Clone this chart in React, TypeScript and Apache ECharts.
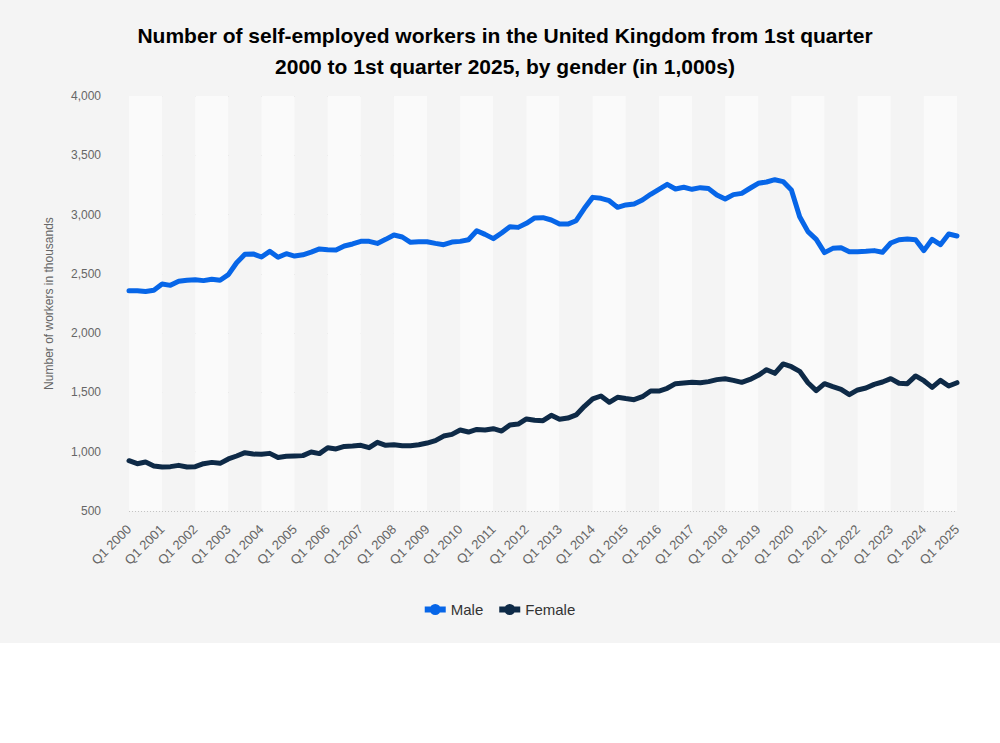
import { useEffect, useRef } from 'react';
import * as echarts from 'echarts';

const START_YEAR = 2000;
const END_YEAR = 2025;

// Q1 2000 .. Q1 2025
const quarters: string[] = [];
for (let y = START_YEAR; y <= END_YEAR; y++) {
  for (let q = 1; q <= 4; q++) {
    if (y === END_YEAR && q > 1) break;
    quarters.push(`Q${q} ${y}`);
  }
}

const male = [
  2358, 2358, 2352, 2362, 2414, 2403, 2437, 2446, 2451, 2443,
  2455, 2446, 2493, 2594, 2665, 2668, 2642, 2690, 2640, 2670,
  2650, 2661, 2684, 2710, 2704, 2701, 2735, 2752, 2774, 2774,
  2757, 2791, 2828, 2811, 2766, 2771, 2771, 2757, 2746, 2768,
  2774, 2788, 2864, 2833, 2797, 2845, 2898, 2892, 2926, 2972,
  2974, 2954, 2920, 2920, 2948, 3053, 3145, 3137, 3117, 3061,
  3081, 3090, 3123, 3171, 3213, 3255, 3216, 3230, 3213, 3227,
  3219, 3165, 3131, 3168, 3179, 3222, 3264, 3275, 3294, 3278,
  3207, 2982, 2856, 2791, 2679, 2715, 2721, 2687, 2687, 2690,
  2696, 2682, 2760, 2788, 2794, 2788, 2696, 2791, 2746, 2836,
  2819,
];

const female = [
  924, 899, 913, 880, 871, 874, 885, 871, 874, 899,
  910, 902, 939, 964, 992, 980, 978, 986, 952, 961,
  964, 967, 998, 984, 1034, 1023, 1045, 1048, 1054, 1034,
  1079, 1054, 1059, 1051, 1051, 1059, 1073, 1093, 1132, 1146,
  1183, 1166, 1188, 1183, 1194, 1174, 1225, 1233, 1276, 1265,
  1262, 1307, 1273, 1284, 1310, 1383, 1445, 1470, 1417, 1459,
  1448, 1439, 1464, 1512, 1512, 1535, 1574, 1580, 1585, 1582,
  1591, 1608, 1616, 1602, 1585, 1610, 1644, 1692, 1661, 1740,
  1717, 1678, 1582, 1515, 1574, 1549, 1526, 1481, 1521, 1537,
  1568, 1588, 1616, 1577, 1574, 1639, 1599, 1543, 1602, 1554,
  1582,
];

const FONT = "'Liberation Sans', Arial, Helvetica, sans-serif";
const MALE_COLOR = '#0766e8';
const FEMALE_COLOR = '#0e2a47';
// thick bar with a dot in the middle, like the legend markers of the original
const LEGEND_ICON =
  'path://M0,2.5L21,2.5L21,8.5L0,8.5Z M5,5.5A5.5,5.5 0 1,1 16,5.5A5.5,5.5 0 1,1 5,5.5Z';

export default function App() {
  const chartRef = useRef<HTMLDivElement>(null);

  useEffect(() => {
    document.body.style.margin = '0';
    if (!chartRef.current) return;
    const chart = echarts.init(chartRef.current, undefined, { renderer: 'svg' });

    const option: echarts.EChartsOption = {
      animation: false,
      backgroundColor: '#f4f4f4',
      title: {
        text: 'Number of self-employed workers in the United Kingdom from 1st quarter\n2000 to 1st quarter 2025, by gender (in 1,000s)',
        left: 500,
        top: 15,
        textAlign: 'center',
        textStyle: {
          fontFamily: FONT,
          fontSize: 21,
          fontWeight: 'bold',
          color: '#000',
          lineHeight: 31,
        },
      },
      legend: {
        top: 597,
        left: 'center',
        icon: LEGEND_ICON,
        itemWidth: 21,
        itemHeight: 11,
        itemGap: 16,
        textStyle: { fontFamily: FONT, fontSize: 15, color: '#333' },
        data: ['Male', 'Female'],
      },
      grid: {
        left: 129,
        right: 43,
        top: 96,
        bottom: 132,
      },
      xAxis: {
        type: 'category',
        data: quarters,
        boundaryGap: false,
        axisLine: { show: false },
        axisTick: { show: false },
        axisLabel: {
          interval: 3,
          rotate: 45,
          margin: 16,
          color: '#666',
          fontFamily: FONT,
          fontSize: 13,
        },
        splitLine: { show: false },
        splitArea: {
          show: true,
          interval: 3,
          areaStyle: { color: ['#fafafa', '#f4f4f4'] },
        },
      },
      yAxis: {
        type: 'value',
        min: 500,
        max: 4000,
        interval: 500,
        name: 'Number of workers in thousands',
        nameLocation: 'middle',
        nameGap: 74,
        nameTextStyle: { color: '#666', fontFamily: FONT, fontSize: 12 },
        axisLine: { show: false },
        axisTick: { show: false },
        axisLabel: {
          margin: 28,
          color: '#666',
          fontFamily: FONT,
          fontSize: 12,
          formatter: (v: number) => v.toLocaleString('en-US'),
        },
        splitLine: {
          lineStyle: { color: '#c4c4c4', type: [1, 2], width: 1 },
        },
      },
      series: [
        {
          name: 'Male',
          type: 'line',
          data: male,
          symbol: 'circle',
          symbolSize: 9,
          showSymbol: false,
          lineStyle: { color: MALE_COLOR, width: 5, join: 'round', cap: 'round' },
          itemStyle: { color: MALE_COLOR },
        },
        {
          name: 'Female',
          type: 'line',
          data: female,
          symbol: 'circle',
          symbolSize: 9,
          showSymbol: false,
          lineStyle: { color: FEMALE_COLOR, width: 5, join: 'round', cap: 'round' },
          itemStyle: { color: FEMALE_COLOR },
        },
      ],
    };

    chart.setOption(option, true);
    return () => {
      chart.dispose();
    };
  }, []);

  return (
    <div style={{ width: 1000, height: 743, background: '#fff' }}>
      <div ref={chartRef} style={{ width: 1000, height: 643 }} />
    </div>
  );
}
